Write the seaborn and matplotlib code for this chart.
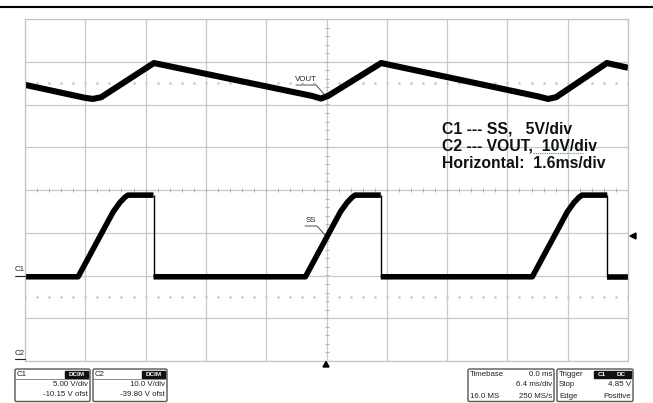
import numpy as np
import pandas as pd
import matplotlib
matplotlib.use("Agg")
import matplotlib.pyplot as plt
import seaborn as sns
from matplotlib.patches import FancyBboxPatch, Polygon, Rectangle

sns.set_style("white")
plt.rcParams['font.family'] = ['Liberation Sans', 'DejaVu Sans']

# scope settings (from the channel / timebase boxes)
ms_per_div = 1.6
c1_volts_per_div = 5.0
c1_offset = -10.15
c2_volts_per_div = 10.0
c2_offset = -39.80

# C1 = SS pin, ms / V, one list entry per point; piece = part between fast falling edges
ss_time = [0.0, 1.41, 2.34, 2.52, 2.65, 2.73, 3.41,
           3.41, 7.44, 8.37, 8.55, 8.68, 8.76, 9.44,
           9.44, 13.46, 14.39, 14.57, 14.70, 14.78, 15.45,
           15.45, 16.0]
ss_volt = [0.0, 0.0, 7.6, 8.7, 9.3, 9.55, 9.55,
           0.0, 0.0, 7.6, 8.7, 9.3, 9.55, 9.55,
           0.0, 0.0, 7.6, 8.7, 9.3, 9.55, 9.55,
           0.0, 0.0]
ss_piece = [0] * 7 + [1] * 7 + [2] * 7 + [3] * 2
ss_fall_time = [3.41, 9.44, 15.45]
ss_low, ss_high = 0.0, 9.55

# C2 = VOUT, ms / V
vout_time = [0.0, 1.57, 1.80, 2.02, 3.42, 7.62, 7.85, 8.04, 9.45,
             13.61, 13.88, 14.09, 15.44, 16.0]
vout_volt = [64.4, 61.4, 61.1, 61.5, 69.5, 61.8, 61.2, 61.8, 69.5,
             61.7, 61.1, 61.5, 69.5, 68.4]

ss_df = pd.DataFrame({"t": ss_time, "v": ss_volt, "piece": ss_piece})
ss_df["div"] = (ss_df["v"] + c1_offset) / c1_volts_per_div
vout_df = pd.DataFrame({"t": vout_time, "v": vout_volt})
vout_df["div"] = (vout_df["v"] + c2_offset) / c2_volts_per_div

W, H = 653, 403
fig = plt.figure(figsize=(W / 100, H / 100), dpi=100)
ax = fig.add_axes([25 / W, 1 - 361 / H, 603 / W, 342 / H])
ax.set_xlim(0, 10 * ms_per_div)
ax.set_ylim(-4, 4)

# graticule
ax.set_xticks(np.arange(0, 10 * ms_per_div + 0.01, ms_per_div))
ax.set_yticks(np.arange(-4, 5, 1))
ax.grid(True, color="#c8c8c8", lw=0.9)
ax.tick_params(length=0, labelbottom=False, labelleft=False)
for s in ax.spines.values():
    s.set_color("#c4c4c4")
    s.set_linewidth(0.9)
minor_x = np.arange(0, 10 * ms_per_div + 0.01, ms_per_div / 5)
minor_y = np.arange(-4, 4.01, 0.2)
ax.plot(minor_x, np.zeros_like(minor_x), ls="none", marker="|", ms=3.5, mew=0.7, color="#b0b0b0")
ax.plot(np.full_like(minor_y, 5 * ms_per_div), minor_y, ls="none", marker="_", ms=3.5, mew=0.7, color="#b0b0b0")
for yy in (2.5, -2.5):
    ax.plot(minor_x, np.full_like(minor_x, yy), ls="none", marker="s", ms=0.8, color="#c8c8c8")

# traces
sns.lineplot(data=vout_df, x="t", y="div", color="black", lw=4.4, sort=False,
             estimator=None, ax=ax, solid_capstyle="butt")
sns.lineplot(data=ss_df, x="t", y="div", units="piece", color="black", lw=4.0,
             sort=False, estimator=None, ax=ax, solid_capstyle="butt")
ax.vlines(ss_fall_time, (ss_low + c1_offset) / c1_volts_per_div,
          (ss_high + c1_offset) / c1_volts_per_div, color="black", lw=1.0)
ax.set_xlabel("")
ax.set_ylabel("")

# overlay in pixel coordinates for the scope decorations
ov = fig.add_axes([0, 0, 1, 1])
ov.set_xlim(0, W)
ov.set_ylim(H, 0)
ov.axis("off")
ov.plot([0, W], [7, 7], color="black", lw=1.5)

small = 5.7
ov.text(306, 83, "VOUT", fontsize=small, ha="center", va="bottom", color="#222222")
ov.plot([296, 316, 324], [85, 85, 94], color="#333333", lw=0.6)
ov.text(311, 224, "SS", fontsize=small, ha="center", va="bottom", color="#222222")
ov.plot([305, 317, 325], [226, 226, 235], color="#333333", lw=0.6)
ov.text(15, 273, "C1", fontsize=small, ha="left", va="bottom", color="#222222")
ov.plot([15, 25], [275.5, 275.5], color="#222222", lw=0.8)
ov.text(15, 357, "C2", fontsize=small, ha="left", va="bottom", color="#222222")
ov.plot([15, 25], [359, 359], color="#222222", lw=0.8)
ov.add_patch(Polygon([[630, 236], [636, 233], [636, 239]], color="black"))
ov.add_patch(Polygon([[326, 361.5], [323, 367], [329, 367]], color="black"))

big_lines = ["C1 --- SS,   5V/div", "C2 --- VOUT,  10V/div", "Horizontal:  1.6ms/div"]
for i, s in enumerate(big_lines):
    ov.text(442, 133.5 + i * 17, s, fontsize=11.3, fontweight="bold", ha="left",
            va="baseline", color="#111111")
ov.plot([533, 584], [152.5, 152.5], color="#4aa04a", lw=0.8, ls=(0, (1, 1)))


def box(x0, x1, y0=369, y1=401.5):
    ov.add_patch(FancyBboxPatch((x0, y0), x1 - x0, y1 - y0,
                                boxstyle="round,pad=0,rounding_size=1.5",
                                fc="white", ec="#555555", lw=1.0))


def badge(x0, x1, label, y0=370.5, y1=377.5):
    ov.add_patch(Rectangle((x0, y0), x1 - x0, y1 - y0, color="#111111"))
    ov.text((x0 + x1) / 2, (y0 + y1) / 2 + 0.3, label, fontsize=4.6, fontweight="bold",
            color="white", ha="center", va="center")


channel_boxes = [("C1", 15, 90, "5.00 V/div", "-10.15 V ofst"),
                 ("C2", 93, 167, "10.0 V/div", "-39.80 V ofst")]
for name, x0, x1, l1, l2 in channel_boxes:
    box(x0, x1)
    ov.plot([x0, x1], [378.5, 378.5], color="#777777", lw=0.6)
    ov.text(x0 + 2, 374, name, fontsize=small, va="center", color="#222222")
    badge(x1 - 25, x1 - 2, "DCIM")
    ov.text(x1 - 2, 385, l1, fontsize=small, ha="right", va="center", color="#222222")
    ov.text(x1 - 2, 395, l2, fontsize=small, ha="right", va="center", color="#222222")

box(468, 554)
ov.text(470, 375, "Timebase", fontsize=small, va="center", color="#222222")
ov.text(552, 375, "0.0 ms", fontsize=small, ha="right", va="center", color="#222222")
ov.text(552, 385, "6.4 ms/div", fontsize=small, ha="right", va="center", color="#222222")
ov.text(470, 396, "16.0 MS", fontsize=small, va="center", color="#222222")
ov.text(552, 396, "250 MS/s", fontsize=small, ha="right", va="center", color="#222222")

box(557, 633)
ov.text(559, 375, "Trigger", fontsize=small, va="center", color="#222222")
badge(594, 610.5, "C1")
badge(612, 631, "DC")
ov.text(559, 385, "Stop", fontsize=small, va="center", color="#222222")
ov.text(631, 385, "4.85 V", fontsize=small, ha="right", va="center", color="#222222")
ov.text(559, 396, "Edge", fontsize=small, va="center", color="#222222")
ov.text(631, 396, "Positive", fontsize=small, ha="right", va="center", color="#222222")

fig.savefig("out.png", dpi=100)
